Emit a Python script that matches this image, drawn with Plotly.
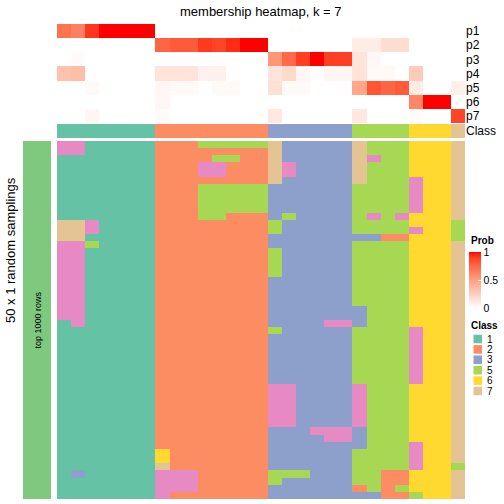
import plotly.graph_objects as go

# ---------------- data ----------------
prob_rows = ["p1", "p2", "p3", "p4", "p5", "p6", "p7"]
n_cols = 29
# membership probabilities (rows p1..p7, 29 columns)
p1 = [0.70, 0.64, 0.92, 1, 1, 1, 1, 0, 0, 0, 0, 0, 0, 0, 0, 0, 0, 0, 0, 0, 0, 0, 0, 0, 0, 0, 0, 0, 0]
p2 = [0, 0, 0, 0, 0, 0, 0, 0.76, 0.80, 0.80, 0.91, 0.88, 0.94, 1, 1, 0, 0, 0, 0, 0, 0, 0.10, 0.10, 0.18, 0.18, 0, 0, 0, 0]
p3 = [0, 0.02, 0, 0, 0, 0, 0, 0, 0, 0, 0, 0, 0, 0, 0, 0.54, 0.74, 0.90, 1, 0.90, 0.90, 0.14, 0.04, 0, 0, 0, 0, 0, 0]
p4 = [0.32, 0.34, 0, 0, 0, 0, 0, 0.14, 0.14, 0.14, 0.07, 0.07, 0, 0, 0, 0.14, 0.20, 0.04, 0, 0.05, 0.05, 0.15, 0.03, 0.03, 0, 0.28, 0, 0, 0]
p5 = [0, 0, 0.03, 0, 0, 0, 0, 0.04, 0.03, 0.03, 0, 0.03, 0.03, 0, 0, 0.16, 0.03, 0.03, 0, 0, 0, 0.46, 0.82, 0.76, 0.80, 0.10, 0, 0, 0.08]
p6 = [0, 0, 0, 0, 0, 0, 0, 0.04, 0, 0, 0, 0, 0, 0, 0, 0, 0, 0, 0, 0, 0, 0, 0, 0, 0, 0.62, 1, 1, 0]
p7 = [0, 0, 0.04, 0, 0, 0, 0, 0.02, 0, 0, 0, 0, 0, 0, 0, 0.12, 0, 0, 0, 0, 0, 0.12, 0, 0, 0, 0.02, 0, 0, 0.88]

consensus_class = [1] * 7 + [2] * 8 + [3] * 6 + [5] * 4 + [6] * 3 + [7]

# class of each of the 50 samplings, per column, as (class, run length) from top
sampling_runs = [
    [(4, 2), (1, 9), (7, 3), (4, 11), (1, 25)],
    [(4, 2), (1, 9), (7, 3), (4, 12), (1, 20), (3, 1), (1, 3)],
    [(1, 11), (4, 2), (1, 1), (5, 1), (1, 35)],
    [(1, 50)],
    [(1, 50)],
    [(1, 50)],
    [(1, 50)],
    [(2, 43), (6, 2), (7, 1), (4, 4)],
    [(2, 46), (4, 3), (2, 1)],
    [(2, 46), (4, 3), (2, 1)],
    [(5, 1), (2, 2), (4, 2), (2, 1), (5, 5), (2, 39)],
    [(5, 1), (2, 1), (5, 1), (4, 2), (2, 1), (5, 5), (2, 39)],
    [(5, 1), (2, 1), (5, 1), (2, 3), (5, 4), (2, 40)],
    [(5, 1), (2, 5), (5, 4), (2, 40)],
    [(5, 1), (2, 5), (5, 4), (2, 40)],
    [(7, 6), (3, 5), (5, 2), (3, 2), (5, 4), (3, 7), (5, 1), (3, 7), (4, 6), (3, 6), (5, 2), (3, 2)],
    [(3, 3), (4, 2), (3, 5), (5, 1), (3, 23), (4, 6), (3, 6), (5, 1), (3, 3)],
    [(3, 46), (5, 1), (3, 3)],
    [(3, 40), (4, 1), (3, 9)],
    [(3, 25), (4, 1), (3, 14), (4, 2), (3, 8)],
    [(3, 25), (4, 1), (3, 14), (4, 2), (3, 8)],
    [(7, 6), (5, 7), (3, 1), (5, 9), (3, 3), (5, 8), (4, 6), (3, 3), (5, 5), (2, 1), (3, 1)],
    [(5, 2), (4, 1), (5, 7), (4, 1), (5, 2), (3, 1), (5, 35), (3, 1)],
    [(5, 13), (2, 1), (5, 32), (2, 4)],
    [(5, 10), (4, 1), (5, 2), (2, 1), (5, 32), (2, 2), (5, 1), (2, 1)],
    [(6, 5), (4, 5), (6, 2), (4, 1), (6, 13), (4, 8), (6, 8), (4, 4), (6, 3), (5, 1)],
    [(6, 50)],
    [(6, 50)],
    [(7, 11), (5, 3), (7, 31), (5, 1), (7, 4)],
]
legend_classes = [1, 2, 3, 5, 6, 7]

# ---------------- styling ----------------
class_colors = {1: "#66C2A5", 2: "#FC8D62", 3: "#8DA0CB", 4: "#E78AC3",
                5: "#A6D854", 6: "#FFD92F", 7: "#E5C494"}
FONT = "Liberation Sans, Arial, Helvetica, sans-serif"
W = H = 504


def px_x(v):
    return v / W


def px_y(v):
    return 1 - v / H


# white -> red interpolated in LAB space
def _lin(c):
    c /= 255.0
    return c / 12.92 if c <= 0.04045 else ((c + 0.055) / 1.055) ** 2.4


def _gam(c):
    c = max(0.0, min(1.0, c))
    v = 12.92 * c if c <= 0.0031308 else 1.055 * c ** (1 / 2.4) - 0.055
    return int(round(v * 255))


def rgb2lab(r, g, b):
    r, g, b = _lin(r), _lin(g), _lin(b)
    X = (0.4124 * r + 0.3576 * g + 0.1805 * b) / 0.95047
    Y = (0.2126 * r + 0.7152 * g + 0.0722 * b)
    Z = (0.0193 * r + 0.1192 * g + 0.9505 * b) / 1.08883
    f = lambda t: t ** (1 / 3) if t > 0.008856 else 7.787 * t + 16 / 116
    fx, fy, fz = f(X), f(Y), f(Z)
    return 116 * fy - 16, 500 * (fx - fy), 200 * (fy - fz)


def lab2rgb(L, a, b):
    fy = (L + 16) / 116
    fx = fy + a / 500
    fz = fy - b / 200
    finv = lambda t: t ** 3 if t ** 3 > 0.008856 else (t - 16 / 116) / 7.787
    X, Y, Z = finv(fx) * 0.95047, finv(fy), finv(fz) * 1.08883
    r = 3.2406 * X - 1.5372 * Y - 0.4986 * Z
    g = -0.9689 * X + 1.8758 * Y + 0.0415 * Z
    bb = 0.0557 * X - 0.2040 * Y + 1.0570 * Z
    return "rgb(%d,%d,%d)" % (_gam(r), _gam(g), _gam(bb))


lab_w = rgb2lab(255, 255, 255)
lab_r = rgb2lab(255, 0, 0)
prob_scale = []
for i in range(21):
    t = i / 20
    lab = [lab_w[k] + (lab_r[k] - lab_w[k]) * t for k in range(3)]
    prob_scale.append([t, lab2rgb(*lab)])

# discrete scale for classes 1..7
disc_scale = []
for k in range(1, 8):
    disc_scale.append([(k - 1) / 7, class_colors[k]])
    disc_scale.append([k / 7, class_colors[k]])

# ---------------- build matrices ----------------
prob_z = [p1, p2, p3, p4, p5, p6, p7]
samp_cols = []
for runs in sampling_runs:
    col = []
    for cls, n in runs:
        col += [cls] * n
    samp_cols.append(col)
n_samp = len(samp_cols[0])
samp_z = [[samp_cols[c][r] for c in range(n_cols)] for r in range(n_samp)]
cols_idx = list(range(n_cols))

fig = go.Figure()

fig.add_trace(go.Heatmap(
    z=prob_z, x=cols_idx, y=prob_rows, xaxis="x", yaxis="y",
    colorscale=prob_scale, zmin=0, zmax=1, hoverinfo="skip",
    colorbar=dict(
        x=px_x(469), xanchor="left", xpad=0,
        y=px_y(280), yanchor="middle", ypad=0,
        len=56, lenmode="pixels", thickness=12, thicknessmode="pixels",
        outlinewidth=0, tickvals=[0, 0.5, 1], ticktext=["0", "0.5", "1"],
        ticks="inside", ticklen=3, tickcolor="white",
        tickfont=dict(family=FONT, size=10.5, color="black"),
    ),
))

fig.add_trace(go.Heatmap(
    z=[consensus_class], x=cols_idx, y=["Class"], xaxis="x", yaxis="y2",
    colorscale=disc_scale, zmin=0.5, zmax=7.5, showscale=False, hoverinfo="skip",
))

fig.add_trace(go.Heatmap(
    z=samp_z, x=cols_idx, y=list(range(n_samp)), xaxis="x", yaxis="y3",
    colorscale=disc_scale, zmin=0.5, zmax=7.5, showscale=False, hoverinfo="skip",
))

fig.add_trace(go.Heatmap(
    z=[[0] for _ in range(n_samp)], x=[0], y=list(range(n_samp)), xaxis="x2", yaxis="y3",
    colorscale=[[0, "#7FC97F"], [1, "#7FC97F"]], showscale=False, hoverinfo="skip",
))

hidden = dict(showgrid=False, zeroline=False, showticklabels=False, ticks="", showline=False)

fig.update_layout(
    width=W, height=H,
    margin=dict(l=0, r=0, t=0, b=0, autoexpand=False),
    paper_bgcolor="white", plot_bgcolor="white",
    showlegend=False,
    font=dict(family=FONT, color="black"),
    xaxis=dict(domain=[px_x(57), px_x(465)], range=[-0.5, n_cols - 0.5], anchor="y3", **hidden),
    xaxis2=dict(domain=[px_x(23), px_x(51)], range=[-0.5, 0.5], anchor="y3", **hidden),
    yaxis=dict(domain=[px_y(123), px_y(24)], autorange="reversed", anchor="x", side="right",
               showgrid=False, zeroline=False, ticks="", showline=False, automargin=False,
               tickfont=dict(family=FONT, size=12, color="black")),
    yaxis2=dict(domain=[px_y(138), px_y(124)], anchor="x", side="right", automargin=False,
                showgrid=False, zeroline=False, ticks="", showline=False,
                tickfont=dict(family=FONT, size=12, color="black")),
    yaxis3=dict(domain=[px_y(499), px_y(141)], range=[n_samp - 0.5, -0.5], anchor="x", **hidden),
)

annotations = [
    dict(text="membership heatmap, k = 7", x=px_x(261), y=px_y(11), xref="paper", yref="paper",
         showarrow=False, font=dict(size=13, family=FONT, color="black"), xanchor="center", yanchor="middle"),
    dict(text="50 x 1 random samplings", x=px_x(10), y=px_y(250), xref="paper", yref="paper",
         showarrow=False, textangle=-90, font=dict(size=13, family=FONT, color="black"),
         xanchor="center", yanchor="middle"),
    dict(text="top 1000 rows", x=px_x(37.5), y=px_y(320), xref="paper", yref="paper",
         showarrow=False, textangle=-90, font=dict(size=9, family=FONT, color="black"),
         xanchor="center", yanchor="middle"),
    dict(text="<b>Prob</b>", x=px_x(469), y=px_y(240), xref="paper", yref="paper",
         showarrow=False, font=dict(size=10, family=FONT, color="black"), xanchor="left", yanchor="middle"),
    dict(text="<b>Class</b>", x=px_x(469), y=px_y(325), xref="paper", yref="paper",
         showarrow=False, font=dict(size=10, family=FONT, color="black"), xanchor="left", yanchor="middle"),
]
shapes = []
for i, cls in enumerate(legend_classes):
    yc = 339 + i * 10.4
    shapes.append(dict(type="rect", xref="paper", yref="paper",
                       x0=px_x(473), x1=px_x(482.5), y0=px_y(yc + 4.8), y1=px_y(yc - 4.8),
                       fillcolor=class_colors[cls], line=dict(width=1, color="white")))
    annotations.append(dict(text=str(cls), x=px_x(485), y=px_y(yc), xref="paper", yref="paper",
                            showarrow=False, font=dict(size=10, family=FONT, color="black"),
                            xanchor="left", yanchor="middle"))

fig.update_layout(annotations=annotations, shapes=shapes)
fig.write_html("out.html", config={"displayModeBar": False},
               post_script="document.body.style.margin='0px';document.body.style.overflow='hidden';")
